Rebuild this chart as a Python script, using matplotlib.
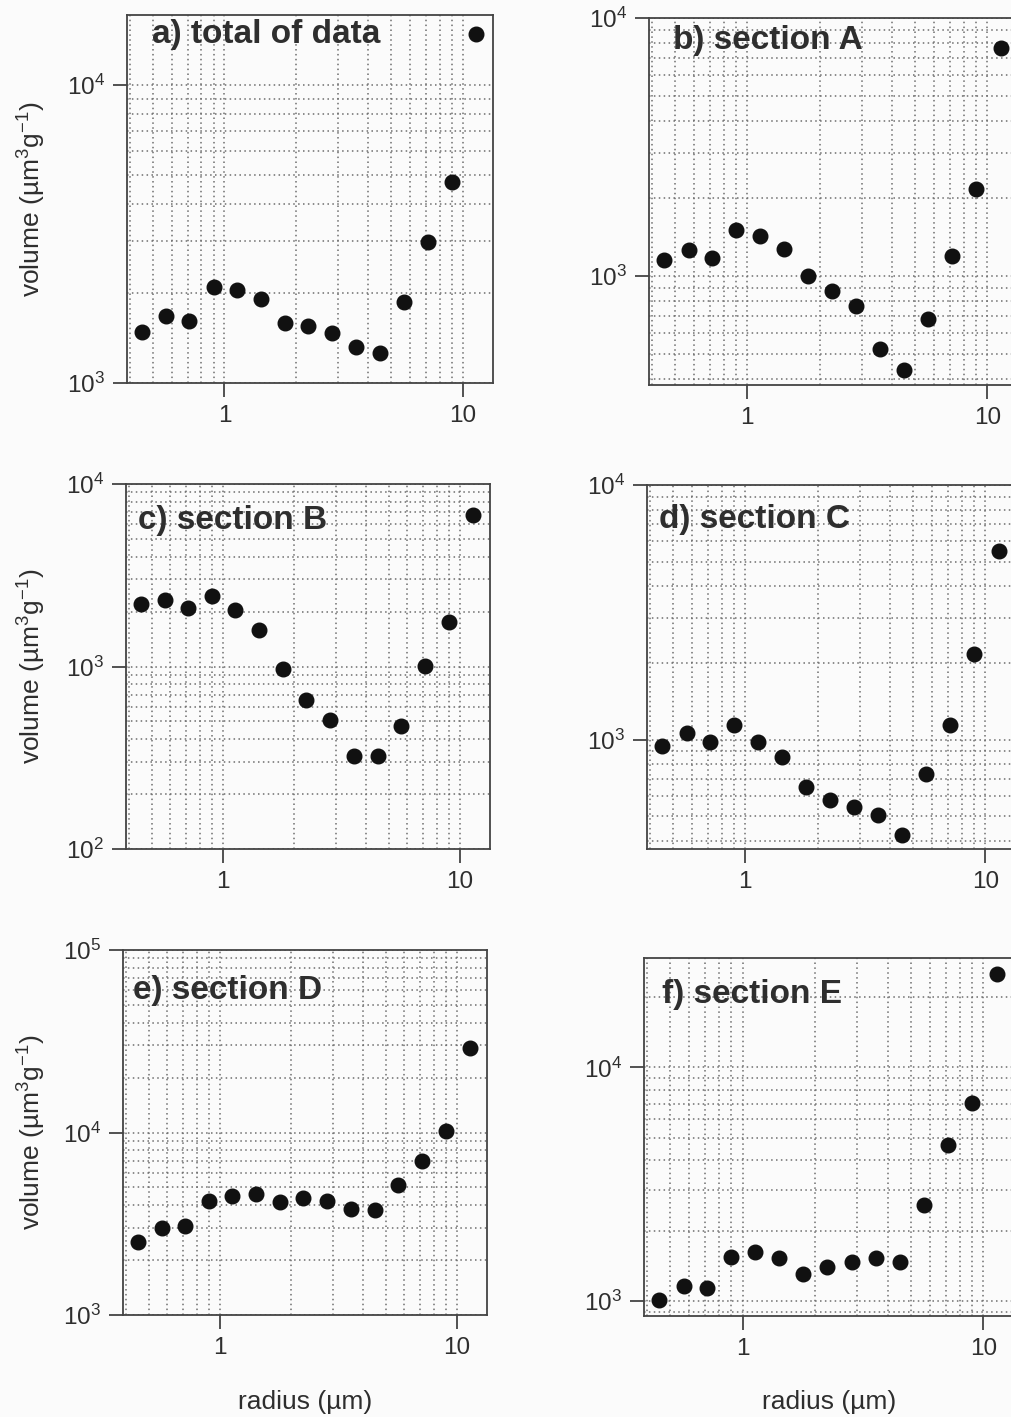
import matplotlib
matplotlib.use("Agg")
import matplotlib.pyplot as plt
from matplotlib.ticker import LogLocator, FixedLocator, NullFormatter, FuncFormatter
import math

plt.rcParams['font.family'] = ['Liberation Sans', 'DejaVu Sans']
plt.rcParams['mathtext.fontset'] = 'custom'
plt.rcParams['mathtext.rm'] = 'Liberation Sans'
plt.rcParams['mathtext.it'] = 'Liberation Sans:italic'
plt.rcParams['mathtext.bf'] = 'Liberation Sans:bold'
plt.rcParams['mathtext.default'] = 'regular'

# ---- data ----
radius = [0.45, 0.57, 0.71, 0.90, 1.13, 1.42, 1.79, 2.25, 2.84, 3.57, 4.50, 5.67, 7.14, 9.0, 11.4]

vol_total = [1480, 1680, 1615, 2100, 2050, 1910, 1590, 1550, 1470, 1320, 1260, 1870, 2970, 4720, 14900]
vol_A = [1150, 1260, 1175, 1510, 1430, 1270, 1000, 877, 766, 521, 432, 682, 1195, 2180, 7660]
vol_B = [2200, 2320, 2080, 2420, 2050, 1585, 971, 658, 507, 324, 324, 473, 1010, 1745, 6750]
vol_C = [941, 1062, 977, 1138, 982, 853, 649, 582, 546, 504, 423, 733, 1138, 2166, 5510]
vol_D = [2500, 3010, 3080, 4230, 4500, 4580, 4160, 4360, 4210, 3830, 3750, 5150, 7010, 10240, 28900]
vol_E = [1007, 1159, 1133, 1549, 1617, 1533, 1305, 1395, 1464, 1524, 1474, 2588, 4645, 7030, 25200]

titles = ["a) total of data", "b) section A", "c) section B",
          "d) section C", "e) section D", "f) section E"]
series = [vol_total, vol_A, vol_B, vol_C, vol_D, vol_E]
ylims = [(1000, 17200), (378, 10000), (100, 10000), (372, 10000), (1000, 100000), (863, 29400)]
xlim = (0.39, 13.4)
x_ticks = [1, 10]
x_ticklabels = ["1", "10"]

W, H = 1012, 1417
# axes boxes in pixels: left, top, right, bottom
boxes = [(127, 15, 493, 383), (649, 18, 1018, 385),
         (126, 484, 490, 849), (647, 485, 1016, 849),
         (123, 950, 487, 1315), (644, 958, 1014, 1316)]
title_pos = [(0.068, 0.946), (0.066, 0.94), (0.033, 0.90),
             (0.033, 0.904), (0.027, 0.89), (0.049, 0.897)]

bg = '#fbfbfb'
fig = plt.figure(figsize=(W / 100, H / 100), dpi=100, facecolor=bg)
txt = '#2e2e2e'

def ylabfmt(v, pos):
    e = int(round(math.log10(v)))
    return r'$10^{%d}$' % e

for i, (box, title, vals, yl) in enumerate(zip(boxes, titles, series, ylims)):
    l, t, r, b = box
    ax = fig.add_axes([l / W, 1 - b / H, (r - l) / W, (b - t) / H])
    ax.set_facecolor(bg)
    ax.set_xscale('log')
    ax.set_yscale('log')
    ax.set_xlim(*xlim)
    ax.set_ylim(*yl)
    ax.plot(radius, vals, 'o', color='#111111', ms=10.5, zorder=3, clip_on=False)

    ax.xaxis.set_major_locator(FixedLocator(x_ticks))
    ax.set_xticklabels(x_ticklabels)
    ax.xaxis.set_minor_locator(LogLocator(base=10, subs=range(2, 10), numticks=20))
    ax.yaxis.set_major_locator(LogLocator(base=10, numticks=10))
    ax.yaxis.set_major_formatter(FuncFormatter(ylabfmt))
    ax.yaxis.set_minor_locator(LogLocator(base=10, subs=range(2, 10), numticks=20))
    ax.xaxis.set_minor_formatter(NullFormatter())
    ax.yaxis.set_minor_formatter(NullFormatter())

    ax.grid(True, which='both', linestyle=(0, (1, 2.2)), color='#6e6e6e', linewidth=1.1)
    ax.tick_params(which='major', direction='out', length=10, width=1.3, colors='#444444',
                   labelsize=17.5, labelcolor=txt, pad=6)
    ax.tick_params(which='minor', length=0)
    for s in ax.spines.values():
        s.set_color('#444444')
        s.set_linewidth(1.3)

    tx, ty = title_pos[i]
    ax.text(tx, ty, title, transform=ax.transAxes, ha='left', va='center',
            fontsize=24, fontweight='bold', color=txt, zorder=4)

    if i % 2 == 0:
        ax.set_ylabel(r'volume (µm$^{3}$g$^{-1}$)', fontsize=19, color=txt)
        ax.yaxis.set_label_coords((32 - l) / (r - l), 0.5)
        ax.yaxis.label.set_va('center')
    if i >= 4:
        ax.set_xlabel('radius (µm)', fontsize=19, color=txt)
        ax.xaxis.set_label_coords(0.5, -(1402 - b) / (b - t))
        ax.xaxis.label.set_va('center')

fig.savefig('out.png', dpi=100, facecolor=bg)
